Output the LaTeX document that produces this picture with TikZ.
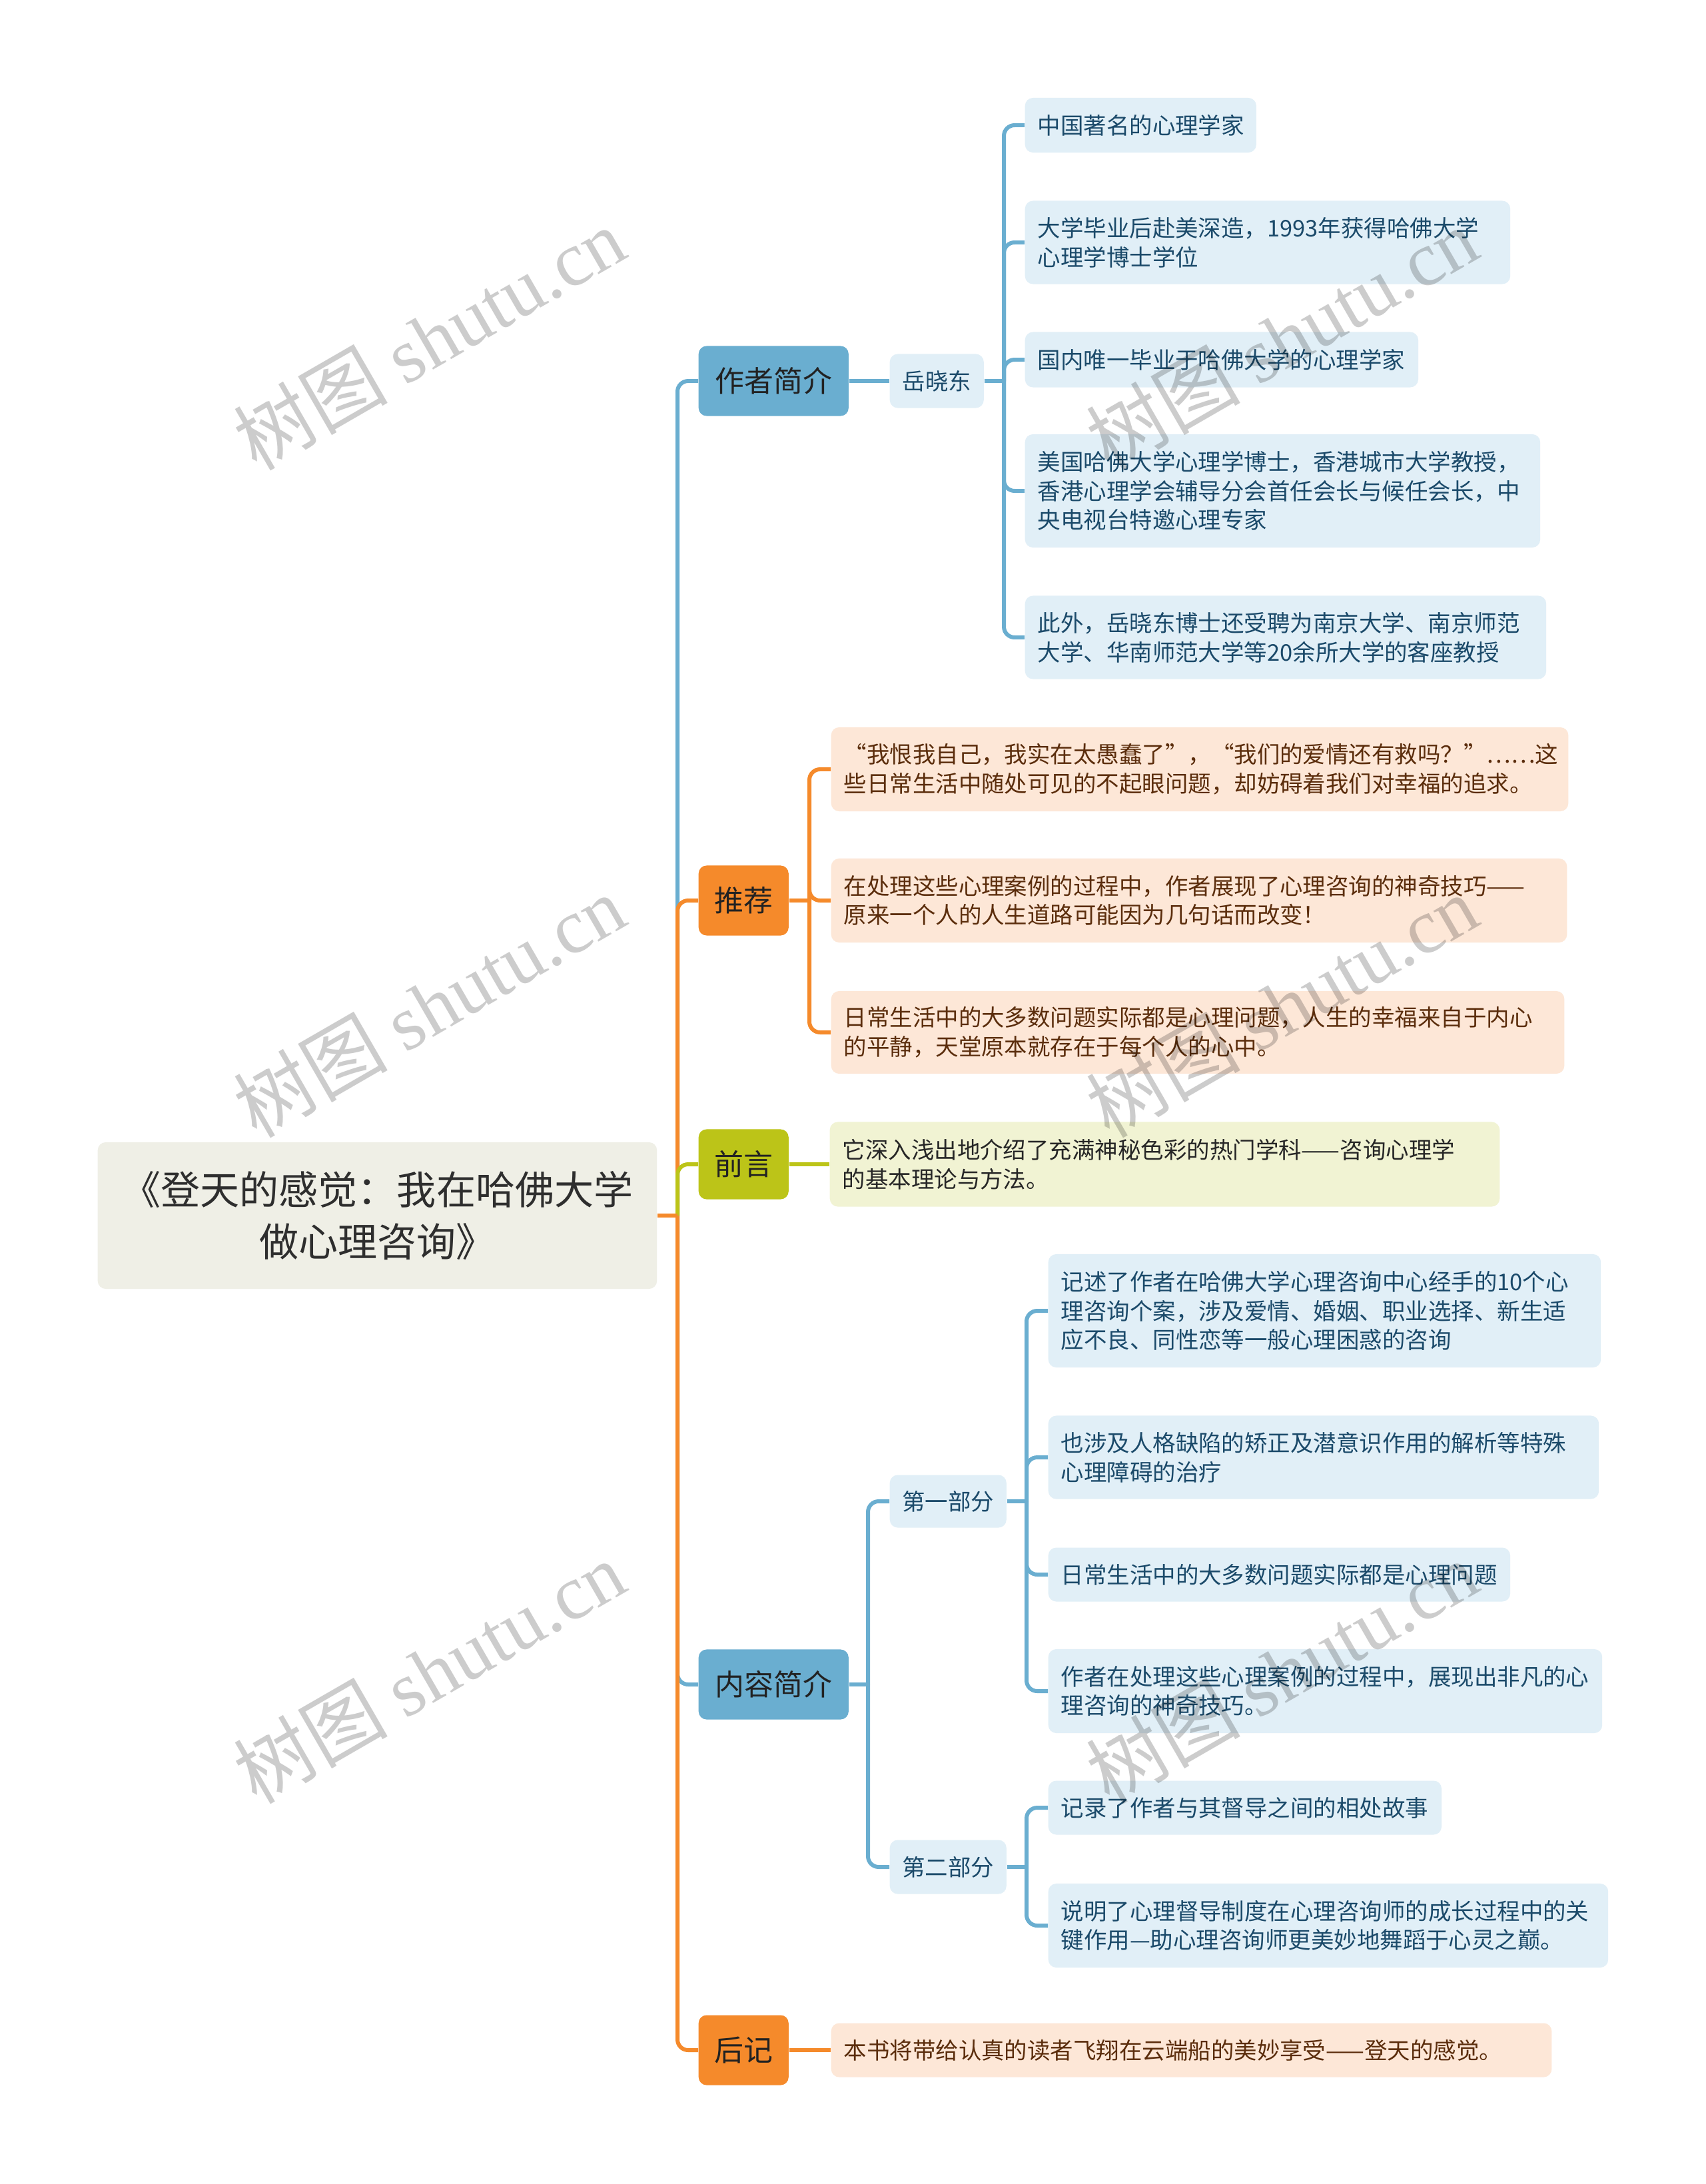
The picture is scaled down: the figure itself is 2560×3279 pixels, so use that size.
\documentclass[tikz,border=0pt]{standalone}
\usepackage{fontspec}
\setmainfont{Noto Sans CJK SC}
\newfontfamily\wmlatin{Liberation Serif}
\newfontfamily\wmcjk{Noto Sans CJK SC}
\definecolor{bmain}{HTML}{6AAED0}
\definecolor{blight}{HTML}{E1EFF7}
\definecolor{omain}{HTML}{F58A2B}
\definecolor{olight}{HTML}{FDE7D7}
\definecolor{gmain}{HTML}{BCC418}
\definecolor{glight}{HTML}{F1F3D3}
\definecolor{rootfill}{HTML}{EFEFE6}
\definecolor{btext}{HTML}{1B4A6A}
\definecolor{otext}{HTML}{5B2D0C}
\definecolor{gtext}{HTML}{262626}
\definecolor{maintext}{HTML}{222222}
\definecolor{roottext}{HTML}{2E2E2E}
\tikzset{
  box/.style={rounded corners=0.12cm, anchor=west, inner ysep=0pt},
  rootbox/.style={box, fill=rootfill, text=roottext, inner xsep=0pt, align=center,
    minimum width=8.39cm, minimum height=2.20cm, font=\fontsize{16.8pt}{22pt}\selectfont},
  mainbox/.style={box, inner xsep=0pt, align=center, minimum height=1.05cm,
    text=maintext, font=\fontsize{12.5pt}{15pt}\selectfont},
  subbox/.style={box, inner xsep=0pt, align=center, fill=blight, text=btext,
    font=\fontsize{9.8pt}{12.4pt}\selectfont},
  leafbox/.style={box, inner xsep=0.19cm, align=left, font=\fontsize{9.8pt}{12.4pt}\selectfont},
  bleaf/.style={leafbox, fill=blight, text=btext},
  oleaf/.style={leafbox, fill=olight, text=otext},
  gleaf/.style={leafbox, fill=glight, text=gtext},
  conn/.style={line width=1.7pt, rounded corners=0.16cm},
  bline/.style={conn, draw=bmain},
  oline/.style={conn, draw=omain},
  gline/.style={conn, draw=gmain},
  wm/.style={rotate=30, text=black, opacity=0.2, font=\fontsize{33pt}{33pt}\selectfont, inner sep=0pt}
}
\begin{document}
\begin{tikzpicture}[x=0.01cm, y=-0.01cm]
\fill[white] (0,0) rectangle (2560,3279);
\useasboundingbox (0,0) rectangle (2560,3279);

% root
\node[rootbox] (root) at (146,1825) {《登天的感觉：我在哈佛大学\\做心理咨询》};

% main branches
\node[mainbox, fill=bmain, minimum width=2.25cm] (zz) at (1048,572) {作者简介};
\node[mainbox, fill=omain, minimum width=1.35cm] (tj) at (1048,1352) {推荐};
\node[mainbox, fill=gmain, minimum width=1.35cm] (qy) at (1048,1748) {前言};
\node[mainbox, fill=bmain, minimum width=2.25cm] (nr) at (1048,2529) {内容简介};
\node[mainbox, fill=omain, minimum width=1.35cm] (hj) at (1048,3078) {后记};

% sub nodes
\node[subbox, minimum width=1.41cm, minimum height=0.81cm] (yxd) at (1335,572) {岳晓东};
\node[subbox, minimum width=1.75cm, minimum height=0.79cm] (p1) at (1335,2254) {第一部分};
\node[subbox, minimum width=1.75cm, minimum height=0.81cm] (p2) at (1335,2803) {第二部分};

% author leaves
\node[bleaf, text width=3.09cm, minimum height=0.82cm] (L1) at (1538,188) {中国著名的心理学家};
\node[bleaf, text width=6.90cm, minimum height=1.25cm] (L2) at (1538,364) {大学毕业后赴美深造，1993年获得哈佛大学\\心理学博士学位};
\node[bleaf, text width=5.52cm, minimum height=0.83cm] (L3) at (1538,540) {国内唯一毕业于哈佛大学的心理学家};
\node[bleaf, text width=7.35cm, minimum height=1.70cm] (L4) at (1538,737) {美国哈佛大学心理学博士，香港城市大学教授，\\香港心理学会辅导分会首任会长与候任会长，中\\央电视台特邀心理专家};
\node[bleaf, text width=7.44cm, minimum height=1.25cm] (L5) at (1538,957) {此外，岳晓东博士还受聘为南京大学、南京师范\\大学、华南师范大学等20余所大学的客座教授};

% recommendation leaves
\node[oleaf, text width=10.68cm, minimum height=1.26cm] (O1) at (1247,1155) {“我恨我自己，我实在太愚蠢了”，“我们的爱情还有救吗？”……这\\些日常生活中随处可见的不起眼问题，却妨碍着我们对幸福的追求。};
\node[oleaf, text width=10.66cm, minimum height=1.26cm] (O2) at (1247,1352) {在处理这些心理案例的过程中，作者展现了心理咨询的神奇技巧——\\原来一个人的人生道路可能因为几句话而改变！};
\node[oleaf, text width=10.62cm, minimum height=1.24cm] (O3) at (1247,1550) {日常生活中的大多数问题实际都是心理问题，人生的幸福来自于内心\\的平静，天堂原本就存在于每个人的心中。};

% preface leaf
\node[gleaf, text width=9.67cm, minimum height=1.27cm] (G1) at (1245,1748) {它深入浅出地介绍了充满神秘色彩的热门学科——咨询心理学\\的基本理论与方法。};

% content leaves
\node[bleaf, text width=7.91cm, minimum height=1.70cm] (B1) at (1573,1968) {记述了作者在哈佛大学心理咨询中心经手的10个心\\理咨询个案，涉及爱情、婚姻、职业选择、新生适\\应不良、同性恋等一般心理困惑的咨询};
\node[bleaf, text width=7.88cm, minimum height=1.25cm] (B2) at (1573,2188) {也涉及人格缺陷的矫正及潜意识作用的解析等特殊\\心理障碍的治疗};
\node[bleaf, text width=6.55cm, minimum height=0.81cm] (B3) at (1573,2364) {日常生活中的大多数问题实际都是心理问题};
\node[bleaf, text width=7.93cm, minimum height=1.26cm] (B4) at (1573,2539) {作者在处理这些心理案例的过程中，展现出非凡的心\\理咨询的神奇技巧。};
\node[bleaf, text width=5.52cm, minimum height=0.81cm] (B5) at (1573,2714) {记录了作者与其督导之间的相处故事};
\node[bleaf, text width=8.02cm, minimum height=1.26cm] (B6) at (1573,2891) {说明了心理督导制度在心理咨询师的成长过程中的关\\键作用—助心理咨询师更美妙地舞蹈于心灵之巅。};

% afterword leaf
\node[oleaf, text width=10.43cm, minimum height=0.81cm] (H1) at (1247,3078) {本书将带给认真的读者飞翔在云端船的美妙享受——登天的感觉。};

% spine
\coordinate (J) at (1017,1825);
\draw[bline] (J) |- (zz.west);
\draw[bline] (J) |- (nr.west);
\draw[oline] (J) |- (tj.west);
\draw[oline] (J) |- (hj.west);
\draw[gline] (J) |- (qy.west);
\draw[oline, rounded corners=0pt] (root.east) -- (J);

% author
\draw[bline] (zz.east) -- (yxd.west);
\coordinate (bY) at (1507,572);
\draw[bline, rounded corners=0pt] (yxd.east) -- (bY);
\foreach \n in {L1,L2,L3,L4,L5} \draw[bline] (bY) |- (\n.west);

% recommendation
\coordinate (bT) at (1215,1352);
\draw[oline, rounded corners=0pt] (tj.east) -- (bT);
\foreach \n in {O1,O2,O3} \draw[oline] (bT) |- (\n.west);

% preface
\draw[gline] (qy.east) -- (G1.west);

% content
\coordinate (bN) at (1303,2529);
\draw[bline, rounded corners=0pt] (nr.east) -- (bN);
\draw[bline] (bN) |- (p1.west);
\draw[bline] (bN) |- (p2.west);
\coordinate (bP1) at (1541,2254);
\draw[bline, rounded corners=0pt] (p1.east) -- (bP1);
\foreach \n in {B1,B2,B3,B4} \draw[bline] (bP1) |- (\n.west);
\coordinate (bP2) at (1541,2803);
\draw[bline, rounded corners=0pt] (p2.east) -- (bP2);
\foreach \n in {B5,B6} \draw[bline] (bP2) |- (\n.west);

% afterword
\draw[oline] (hj.east) -- (H1.west);

% watermarks
\foreach \x/\y [count=\i] in {644/508, 644/1510, 644/2510, 1924/508, 1924/1510, 1924/2510}
  \node[wm, name=wm\i] at (\x,\y) {{\wmcjk 树图} {\wmlatin shutu.cn}};
\end{tikzpicture}
\end{document}
